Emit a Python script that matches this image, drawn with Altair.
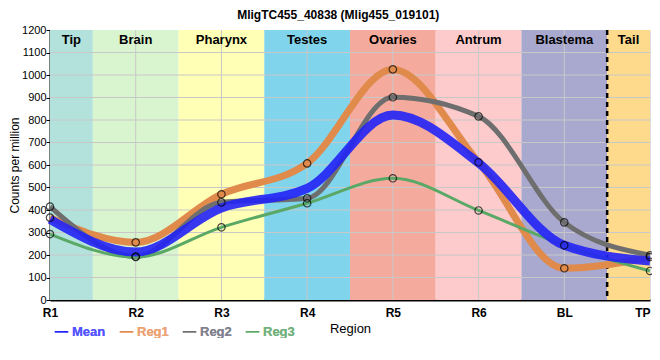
import altair as alt
import pandas as pd

regions = ["R1", "R2", "R3", "R4", "R5", "R6", "BL", "TP"]
reg1 = [366, 256, 470, 607, 1025, 612, 141, 191]
reg2 = [415, 193, 434, 452, 901, 816, 345, 199]
reg3 = [293, 191, 323, 430, 541, 398, 243, 129]
mean = [round((a + b + c) / 3) for a, b, c in zip(reg1, reg2, reg3)]

band_names = ["Tip", "Brain", "Pharynx", "Testes", "Ovaries", "Antrum", "Blastema", "Tail"]
band_colors = ["#b3e2dd", "#d9f5cf", "#ffffb5", "#80d4eb", "#f4aa9c", "#fdcbcb", "#a9a8ce", "#feda8c"]

series_names = ["Mean", "Reg1", "Reg2", "Reg3"]
series_colors = ["#2222f6", "#e08a4c", "#6e6e6e", "#5aa865"]
label_colors = ["#5555ff", "#eca273", "#82828f", "#72b27d"]
series_widths = [9, 3, 3, 3]

y_ticks = list(range(100, 1200, 100))

n = len(regions)
rows = []
for name, vals in zip(series_names, [mean, reg1, reg2, reg3]):
    for i, v in enumerate(vals):
        rows.append({"idx": i, "region": regions[i], "series": name, "value": v})
df = pd.DataFrame(rows)

bands = pd.DataFrame({
    "name": band_names,
    "start": [max(i - 0.5, 0) for i in range(n)],
    "end": [min(i + 0.5, n - 1) for i in range(n)],
    "mid": [(max(i - 0.5, 0) + min(i + 0.5, n - 1)) / 2 for i in range(n)],
})
ygrid = pd.DataFrame({"v": y_ticks})
xgrid = pd.DataFrame({"i": list(range(1, n - 1))})
divider = pd.DataFrame({"i": [n - 1.5]})

xscale = alt.Scale(domain=[0, n - 1], nice=False, zero=False)
yscale = alt.Scale(domain=[0, 1200], nice=False)

label_expr = "[" + ",".join("'%s'" % r for r in regions) + "][datum.value]"
xaxis = alt.Axis(values=list(range(n)), labelExpr=label_expr, title="Region",
                 labelFontSize=12, labelFontWeight="bold", labelColor="black",
                 labelAlign={"condition": {"test": "datum.value == %d" % (n - 1), "value": "right"}, "value": "center"},
                 titleFontSize=13, titleFontWeight="normal", titleColor="black",
                 titlePadding=4, labelPadding=7, ticks=False, grid=False,
                 domainColor="black", domainWidth=2, labelFlush=False)
yaxis = alt.Axis(values=list(range(0, 1300, 100)), format="d", title="Counts per million",
                 labelFontSize=11, labelColor="black", titleFontSize=12,
                 titleFontWeight="normal", titleColor="black", titlePadding=0,
                 labelPadding=0, tickColor="black", tickSize=4, grid=False,
                 domainColor="black", domainWidth=2)


def X(field):
    return alt.X(field, scale=xscale, axis=xaxis)


def Y(field):
    return alt.Y(field, scale=yscale, axis=yaxis)


band_layer = alt.Chart(bands).mark_rect().encode(
    x=X("start:Q"),
    x2="end:Q",
    color=alt.Color("name:N", scale=alt.Scale(domain=band_names, range=band_colors), legend=None),
)
ygrid_layer = alt.Chart(ygrid).mark_rule(color="#c8c8c8", strokeWidth=1).encode(y=Y("v:Q"))
xgrid_layer = alt.Chart(xgrid).mark_rule(color="#c8c8c8", strokeWidth=1).encode(x=X("i:Q"))
band_text = alt.Chart(bands).mark_text(fontSize=13, fontWeight="bold", color="black", baseline="middle").encode(
    x=X("mid:Q"), y=alt.value(10), text="name:N"
)
divider_layer = alt.Chart(divider).mark_rule(color="black", strokeWidth=2.5, strokeDash=[5, 4]).encode(
    x=X("i:Q")
)

color_expr = " : ".join(
    "datum.label == '%s' ? '%s'" % (s, c) for s, c in zip(series_names, label_colors)
) + " : 'black'"

color_enc = alt.Color("series:N", scale=alt.Scale(domain=series_names, range=series_colors),
                      legend=alt.Legend(orient="none", legendX=4, legendY=294, direction="horizontal",
                                        title=None, labelFontSize=13, labelFontWeight="bold",
                                        labelColor=alt.ExprRef(color_expr), symbolType="stroke",
                                        symbolSize=180, columnPadding=10, labelOffset=3))
width_enc = alt.StrokeWidth("series:O", scale=alt.Scale(domain=series_names, range=series_widths), legend=None)

reg_lines = alt.Chart(df).transform_filter("datum.series != 'Mean'").mark_line(interpolate="monotone").encode(
    x=X("idx:Q"), y=Y("value:Q"),
    color=color_enc, strokeWidth=width_enc, detail="series:N",
)
mean_line = alt.Chart(df).transform_filter("datum.series == 'Mean'").mark_line(interpolate="monotone", opacity=0.9).encode(
    x=X("idx:Q"), y=Y("value:Q"),
    color=color_enc, strokeWidth=width_enc,
)
points = alt.Chart(df).transform_filter("datum.series != 'Mean'").mark_point(
    shape="circle", filled=False, color="black", size=55, strokeWidth=1.2
).encode(x=X("idx:Q"), y=Y("value:Q"))

chart = alt.layer(
    band_layer, ygrid_layer, xgrid_layer, band_text, divider_layer, reg_lines, mean_line, points
).resolve_scale(color="independent").properties(
    width=600, height=270,
    title=alt.TitleParams("MligTC455_40838 (Mlig455_019101)", fontSize=12, fontWeight="bold",
                          anchor="middle", frame="bounds", offset=2, color="black"),
    autosize=alt.AutoSizeParams(type="none"),
    padding={"left": 42, "top": 22, "right": 2, "bottom": 38},
).configure_view(stroke="black", strokeWidth=1.5).configure(font="Liberation Sans")

chart.save("out.html", embed_options={"renderer": "svg", "actions": False})
